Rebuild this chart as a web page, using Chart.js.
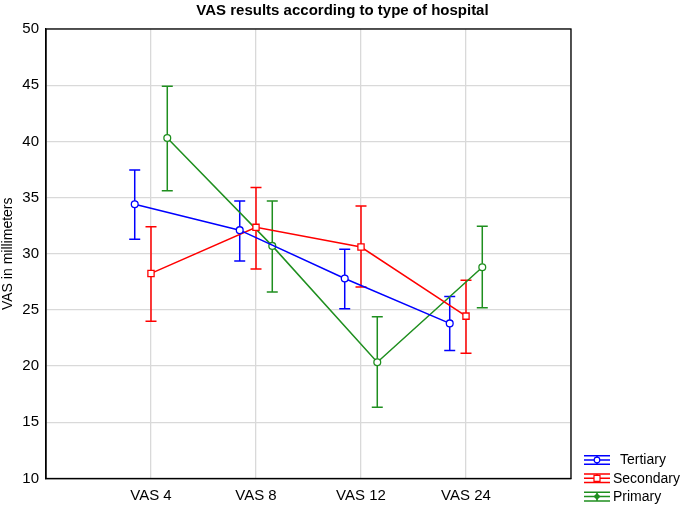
<!DOCTYPE html>
<html>
<head>
<meta charset="utf-8">
<script src="https://cdn.jsdelivr.net/npm/chart.js@4"></script>
<style>
  html, body { margin: 0; padding: 0; background: #fff; }
  #wrap { width: 685px; height: 509px; }
</style>
</head>
<body>
<div id="wrap"><canvas id="vasChart" width="685" height="509"></canvas></div>
<script>
const chartTitle = 'VAS results according to type of hospital';
const yTitle = 'VAS in millimeters';
const categories = ['VAS 4', 'VAS 8', 'VAS 12', 'VAS 24'];
const yTicks = [10, 15, 20, 25, 30, 35, 40, 45, 50];

const seriesNames = ['Tertiary', 'Secondary', 'Primary'];
const seriesColors = ['#0000ff', '#ff0000', '#1f8f1f'];
const seriesOffsets = [-0.155, 0, 0.155];

const tertiaryMean = [34.4, 32.1, 27.8, 23.8];
const tertiaryLow = [31.3, 29.35, 25.1, 21.4];
const tertiaryHigh = [37.45, 34.7, 30.4, 26.2];

const secondaryMean = [28.25, 32.35, 30.6, 24.45];
const secondaryLow = [24.0, 28.65, 27.05, 21.15];
const secondaryHigh = [32.4, 35.9, 34.25, 27.65];

const primaryMean = [40.3, 30.7, 20.35, 28.8];
const primaryLow = [35.6, 26.6, 16.35, 25.2];
const primaryHigh = [44.9, 34.7, 24.4, 32.45];

const means = [tertiaryMean, secondaryMean, primaryMean];
const lows = [tertiaryLow, secondaryLow, primaryLow];
const highs = [tertiaryHigh, secondaryHigh, primaryHigh];
const pointStyles = ['circle', 'rect', 'circle'];
const pointRadii = [3.4, 4.4, 3.4];

const FONT = "'Liberation Sans', Arial, sans-serif";

function buildDatasets() {
    return seriesNames.map((name, s) => ({
        label: name,
        data: means[s].map((v, i) => ({ x: i + 1 + seriesOffsets[s], y: v })),
        borderColor: seriesColors[s],
        backgroundColor: '#ffffff',
        borderWidth: 1.5,
        pointStyle: pointStyles[s],
        pointRadius: pointRadii[s],
        pointBorderWidth: 1.3,
        pointBorderColor: seriesColors[s],
        pointBackgroundColor: '#ffffff',
        tension: 0
    }));
}

// error bars, frame, title and legend
const extras = {
    id: 'extras',
    beforeDatasetsDraw(chart) {
        const ctx = chart.ctx;
        const xs = chart.scales.x, ys = chart.scales.y;
        ctx.save();
        ctx.lineWidth = 1.5;
        seriesNames.forEach((name, s) => {
            ctx.strokeStyle = seriesColors[s];
            means[s].forEach((v, i) => {
                const px = xs.getPixelForValue(i + 1 + seriesOffsets[s]);
                const top = ys.getPixelForValue(highs[s][i]);
                const bot = ys.getPixelForValue(lows[s][i]);
                ctx.beginPath();
                ctx.moveTo(px, top); ctx.lineTo(px, bot);
                ctx.moveTo(px - 5.5, top); ctx.lineTo(px + 5.5, top);
                ctx.moveTo(px - 5.5, bot); ctx.lineTo(px + 5.5, bot);
                ctx.stroke();
            });
        });
        ctx.restore();
    },
    afterDraw(chart) {
        const ctx = chart.ctx;
        const a = chart.chartArea;
        ctx.save();
        // plot frame
        ctx.strokeStyle = '#000';
        ctx.lineWidth = 1.3;
        ctx.strokeRect(a.left, a.top, a.right - a.left, a.bottom - a.top);

        // title
        ctx.fillStyle = '#000';
        ctx.font = 'bold 15px ' + FONT;
        ctx.textAlign = 'center';
        ctx.textBaseline = 'alphabetic';
        ctx.fillText(chartTitle, chart.width / 2, 15);

        // legend
        ctx.font = '14px ' + FONT;
        ctx.textAlign = 'left';
        ctx.textBaseline = 'middle';
        seriesNames.forEach((name, s) => {
            const cy = 460 + s * 18.3;
            const x0 = 584, x1 = 610, cx = (x0 + x1) / 2;
            ctx.strokeStyle = seriesColors[s];
            ctx.fillStyle = seriesColors[s];
            ctx.lineWidth = 1.5;
            ctx.beginPath();
            ctx.moveTo(x0, cy); ctx.lineTo(x1, cy);
            ctx.moveTo(x0, cy - 4.3); ctx.lineTo(x1, cy - 4.3);
            ctx.moveTo(x0, cy + 4.3); ctx.lineTo(x1, cy + 4.3);
            ctx.moveTo(cx, cy - 4.3); ctx.lineTo(cx, cy + 4.3);
            ctx.stroke();
            ctx.lineWidth = 1.2;
            ctx.beginPath();
            if (s === 0) {
                ctx.arc(cx, cy, 2.8, 0, Math.PI * 2);
                ctx.fillStyle = '#fff'; ctx.fill(); ctx.stroke();
            } else if (s === 1) {
                ctx.rect(cx - 3, cy - 3, 6, 6);
                ctx.fillStyle = '#fff'; ctx.fill(); ctx.stroke();
            } else {
                ctx.moveTo(cx, cy - 3.5); ctx.lineTo(cx + 3.5, cy);
                ctx.lineTo(cx, cy + 3.5); ctx.lineTo(cx - 3.5, cy);
                ctx.closePath();
                ctx.fill();
            }
            ctx.fillStyle = '#000';
            ctx.fillText(name, s === 0 ? 620 : 613, cy + 0.5);
        });
        ctx.restore();
    }
};

const ctx = document.getElementById('vasChart').getContext('2d');
new Chart(ctx, {
    type: 'line',
    data: { datasets: buildDatasets() },
    options: {
        responsive: false,
        animation: false,
        layout: { padding: { left: 0, right: 114, top: 29, bottom: 0 } },
        plugins: {
            legend: { display: false },
            title: { display: false },
            tooltip: { enabled: false }
        },
        scales: {
            x: {
                type: 'linear',
                min: 0,
                max: 5,
                afterBuildTicks: (scale) => {
                    scale.ticks = [0, 1, 2, 3, 4, 5].map(v => ({ value: v }));
                },
                afterFit: (scale) => { scale.height = 30.5; },
                grid: { color: '#d9d9d9', lineWidth: 1.3, drawTicks: false },
                border: { color: '#000', width: 1.3 },
                ticks: {
                    padding: 8,
                    color: '#000',
                    font: { family: FONT, size: 15 },
                    maxRotation: 0,
                    autoSkip: false,
                    callback: (v) => categories[v - 1] || ''
                }
            },
            y: {
                min: yTicks[0],
                max: yTicks[yTicks.length - 1],
                afterBuildTicks: (scale) => {
                    scale.ticks = yTicks.map(v => ({ value: v }));
                },
                afterFit: (scale) => { scale.width = 46; },
                grid: { color: '#d9d9d9', lineWidth: 1.3, drawTicks: false },
                border: { color: '#000', width: 1.3 },
                ticks: {
                    padding: 7,
                    color: '#000',
                    font: { family: FONT, size: 15 }
                },
                title: {
                    display: true,
                    text: yTitle,
                    color: '#000',
                    font: { family: FONT, size: 14 },
                    padding: { top: 0, bottom: 0 }
                }
            }
        }
    },
    plugins: [extras]
});
</script>
</body>
</html>
